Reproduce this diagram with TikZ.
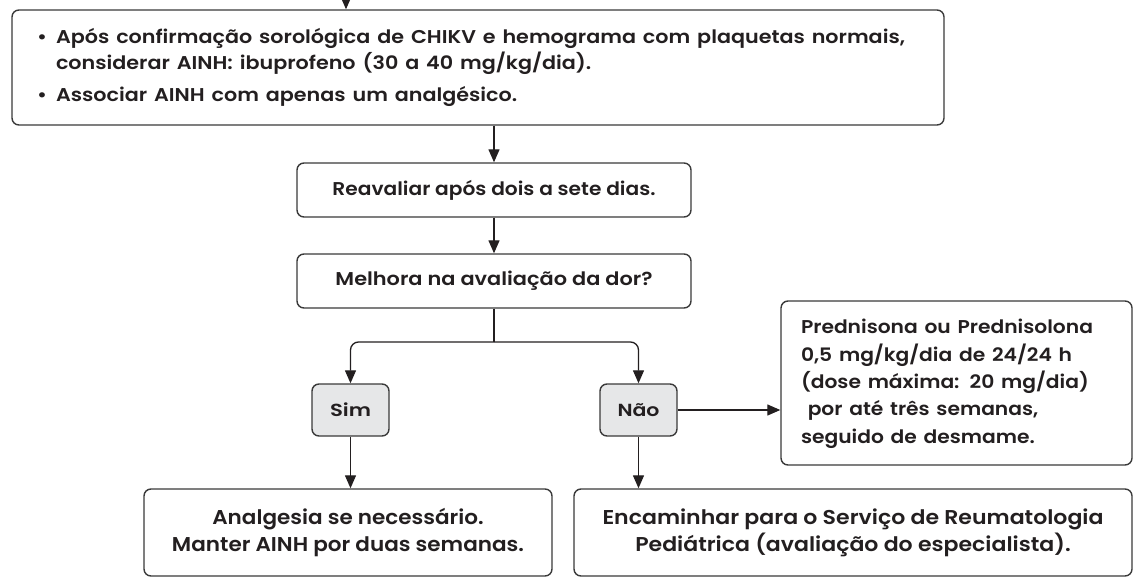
\documentclass[tikz,border=0pt]{standalone}
\usepackage{fontspec}
\usepackage{graphicx}
\setmainfont{Poppins}[UprightFont={* SemiBold}]
\usetikzlibrary{arrows.meta}
\definecolor{ink}{HTML}{231F20}
\definecolor{edge}{HTML}{3A3A3A}
\definecolor{lightfill}{HTML}{E6E7E8}
\newcommand{\fitw}[2]{\resizebox{#1}{\height}{#2}}
\begin{document}
\begin{tikzpicture}[x=1pt,y=-1pt,
  box/.style={draw=edge, line width=1.4pt, rounded corners=7pt, fill=white, text=ink, inner sep=0pt},
  choice/.style={box, fill=lightfill, minimum width=77pt, minimum height=52pt, font=\fontsize{17.5}{20}\selectfont},
  arr/.style={draw=ink, line width=1.3pt, -{Triangle[length=13pt,width=11pt]}},
  conn/.style={arr, rounded corners=8pt}
]
\useasboundingbox (0,0) rectangle (1134,578);

\node[box, minimum width=932pt, minimum height=115pt, text width=882pt, inner xsep=25pt, align=left,
      font=\fontsize{18.5}{25}\selectfont] (b1) at (478,67.5)
  {\fitw{868pt}{\begin{tabular}{@{}l@{}}
   \makebox[17pt][l]{•}Após confirmação sorológica de CHIKV e hemograma com plaquetas normais,\\
   \hspace*{17pt}considerar AINH: ibuprofeno (30 a 40 mg/kg/dia).\\[7pt]
   \makebox[17pt][l]{•}Associar AINH com apenas um analgésico.
   \end{tabular}}};

\node[box, minimum width=394pt, minimum height=54pt, font=\fontsize{18.5}{22}\selectfont] (b2) at (494,190)
  {\fitw{323pt}{Reavaliar após dois a sete dias.}};
\node[box, minimum width=394pt, minimum height=54pt, font=\fontsize{18.5}{22}\selectfont] (b3) at (494,281)
  {\fitw{317pt}{Melhora na avaliação da dor?}};

\node[choice] (sim) at (350.5,410) {\fitw{41pt}{Sim}};
\node[choice] (nao) at (638.5,410) {\fitw{42pt}{Não}};

\node[box, minimum width=351pt, minimum height=164pt, text width=311pt, inner xsep=20pt, align=left,
      font=\fontsize{18.5}{27.3}\selectfont] (pred) at (956.5,383)
  {\fitw{292pt}{\begin{tabular}{@{}l@{}}
   Prednisona ou Prednisolona\\
   0,5 mg/kg/dia de 24/24 h\\
   (dose máxima: 20 mg/dia)\\
   \ por até três semanas,\\
   seguido de desmame.
   \end{tabular}}};

\node[box, minimum width=408pt, minimum height=87pt,
      font=\fontsize{20}{27.3}\selectfont] (bl) at (348,532.5)
  {\fitw{352pt}{\begin{tabular}{@{}c@{}}Analgesia se necessário.\\Manter AINH por duas semanas.\end{tabular}}};
\node[box, minimum width=558pt, minimum height=87pt,
      font=\fontsize{20}{27.3}\selectfont] (br) at (853,532.5)
  {\fitw{501pt}{\begin{tabular}{@{}c@{}}Encaminhar para o Serviço de Reumatologia\\Pediátrica (avaliação do especialista).\end{tabular}}};

\coordinate (top) at (346,-2);
\coordinate (split) at (494,342);
\draw[arr] (top) -- (top |- b1.north);
\draw[arr] (b2.north |- b1.south) -- (b2.north);
\draw[arr] (b2.south) -- (b3.north);
\draw[ink, line width=1.3pt] (b3.south) -- (split);
\draw[conn] (split) -| (nao.north);
\draw[conn] (split) -| (sim.north);
\draw[arr] (nao.east) -- (nao.east -| pred.west);
\draw[arr] (sim.south) -- (sim.south |- bl.north);
\draw[arr] (nao.south) -- (nao.south |- br.north);
\end{tikzpicture}
\end{document}
